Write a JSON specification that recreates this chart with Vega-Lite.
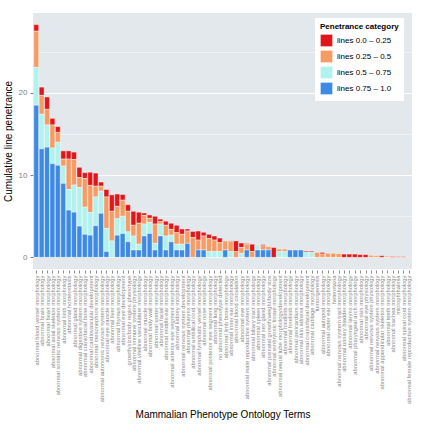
{
  "$schema": "https://vega.github.io/schema/vega-lite/v6.json",
  "width": 379,
  "height": 256,
  "autosize": "none",
  "padding": {"left": 33, "top": 13, "right": 14, "bottom": 157},
  "background": "white",
  "config": {
    "font": "Liberation Sans",
    "view": {"fill": "#E2E8EB", "stroke": null}
  },
  "data": {"values": [
    {"t":"abnormal blood vessel morphology","b":18.5,"c":4.6,"o":4.4,"r":0.8},
    {"t":"abnormal brain morphology","b":13.2,"c":4.2,"o":2.3,"r":1.0},
    {"t":"abnormal heart morphology","b":13.4,"c":2.7,"o":1.9,"r":1.5},
    {"t":"abnormal axial skeleton morphology","b":11.4,"c":1.9,"o":2.8,"r":0.8},
    {"t":"abnormal somatic nervous system morphology","b":11.2,"c":2.8,"o":1.2,"r":0.7},
    {"t":"abnormal limb morphology","b":9.0,"c":2.1,"o":0.85,"r":1.0},
    {"t":"abnormal homeostasis","b":5.75,"c":2.5,"o":3.7,"r":1.0},
    {"t":"abnormal gland morphology","b":5.5,"c":3.3,"o":3.1,"r":0.9},
    {"t":"abnormal digestive system morphology","b":3.8,"c":4.7,"o":1.2,"r":1.25},
    {"t":"abnormal craniofacial bone morphology","b":2.8,"c":3.3,"o":3.5,"r":0.7},
    {"t":"abnormal cardiovascular development","b":2.7,"c":2.75,"o":3.3,"r":1.6},
    {"t":"abnormal mesonephros morphology","b":3.85,"c":3.5,"o":1.3,"r":1.6},
    {"t":"abnormal autonomic nervous system morphology","b":5.35,"c":2.7,"o":0.6,"r":0.5},
    {"t":"abnormal eye muscle morphology","b":0.7,"c":2.8,"o":3.85,"r":0.9},
    {"t":"abnormal liver morphology","b":0,"c":2.0,"o":3.6,"r":2.0},
    {"t":"abnormal thymus morphology","b":2.7,"c":2.0,"o":1.5,"r":1.5},
    {"t":"abnormal eye development","b":2.9,"c":2.1,"o":1.95,"r":0.7},
    {"t":"growth/size/body region phenotype","b":1.9,"c":1.2,"o":2.5,"r":0.8},
    {"t":"abnormal immune system physiology","b":0.9,"c":1.7,"o":1.3,"r":1.7},
    {"t":"abnormal vitelline vasculature morphology","b":0.9,"c":0.7,"o":2.55,"r":1.35},
    {"t":"abnormal muscle morphology","b":2.6,"c":1.45,"o":1.05,"r":0.3},
    {"t":"abnormal body wall morphology","b":2.9,"c":1.35,"o":0.5,"r":0.4},
    {"t":"abnormal ureter morphology","b":0.9,"c":0.8,"o":2.35,"r":0.95},
    {"t":"abnormal facial morphology","b":2.6,"c":1.45,"o":0.3,"r":0.3},
    {"t":"abnormal middle ear morphology","b":0.9,"c":1.7,"o":1.3,"r":0.5},
    {"t":"abnormal anterior eye segment morphology","b":1.9,"c":0.8,"o":0.7,"r":0.75},
    {"t":"abnormal kidney morphology","b":0.9,"c":0.7,"o":1.4,"r":0.9},
    {"t":"abnormal nervous system development","b":0.9,"c":0.7,"o":1.2,"r":0.65},
    {"t":"abnormal pharynx morphology","b":1.7,"c":0,"o":1.5,"r":0.25},
    {"t":"abnormal umbilical cord morphology","b":0,"c":0,"o":2.4,"r":0.75},
    {"t":"abnormal lymphatic vessel morphology","b":0.9,"c":0,"o":1.2,"r":1.1},
    {"t":"abnormal nose morphology","b":0.9,"c":0,"o":1.7,"r":0.45},
    {"t":"abnormal posterior eye segment morphology","b":0,"c":0.7,"o":1.6,"r":0.5},
    {"t":"abnormal lung morphology","b":0,"c":0.7,"o":1.4,"r":0.5},
    {"t":"no abnormal phenotype detected","b":0,"c":0.7,"o":1.1,"r":0.55},
    {"t":"abnormal limb bone morphology","b":0.9,"c":0,"o":1.1,"r":0},
    {"t":"abnormal inner ear morphology","b":0,"c":0.7,"o":1.2,"r":0.1},
    {"t":"abnormal blood circulation","b":0,"c":0,"o":0.7,"r":1.3},
    {"t":"abnormal eye morphology","b":0,"c":0.5,"o":0.7,"r":0.55},
    {"t":"abnormal male reproductive system morphology","b":0.9,"c":0,"o":0.7,"r":0.1},
    {"t":"abnormal biliary tract morphology","b":0,"c":0,"o":0.7,"r":0.9},
    {"t":"abnormal spleen morphology","b":0.9,"c":0.6,"o":0,"r":0},
    {"t":"abnormal sex gland morphology","b":0.9,"c":0,"o":0.5,"r":0.15},
    {"t":"abnormal prenatal growth/weight/body size","b":0.9,"c":0,"o":0.4,"r":0},
    {"t":"abnormal embryonic tissue morphology","b":0,"c":0,"o":0,"r":1.2},
    {"t":"abnormal neural tube morphology/development","b":0,"c":0.7,"o":0.3,"r":0},
    {"t":"abnormal hindlimb morphology","b":0,"c":0.7,"o":0.3,"r":0},
    {"t":"abnormal forelimb morphology","b":0.9,"c":0,"o":0,"r":0},
    {"t":"abnormal pericardium morphology","b":0.9,"c":0,"o":0,"r":0},
    {"t":"abnormal skin adnexa morphology","b":0.9,"c":0,"o":0,"r":0},
    {"t":"abnormal craniofacial development","b":0,"c":0.6,"o":0,"r":0.15},
    {"t":"abnormal cartilage morphology","b":0,"c":0.6,"o":0,"r":0.15},
    {"t":"tumorigenesis","b":0,"c":0,"o":0.6,"r":0},
    {"t":"abnormal autopod morphology","b":0,"c":0,"o":0.4,"r":0.2},
    {"t":"abnormal outer ear morphology","b":0,"c":0,"o":0.5,"r":0},
    {"t":"heterotaxia","b":0,"c":0,"o":0.5,"r":0},
    {"t":"abnormal nervous system tract morphology","b":0,"c":0,"o":0.45,"r":0},
    {"t":"abnormal urinary bladder morphology","b":0,"c":0,"o":0,"r":0.4},
    {"t":"abnormal larynx morphology","b":0,"c":0,"o":0,"r":0.4},
    {"t":"abnormal pharyngeal arch morphology","b":0,"c":0,"o":0,"r":0.4},
    {"t":"abnormal skin morphology","b":0,"c":0,"o":0,"r":0.33},
    {"t":"abnormal eye physiology","b":0,"c":0,"o":0,"r":0.33},
    {"t":"abnormal nervous system physiology","b":0,"c":0,"o":0.25,"r":0},
    {"t":"abnormal nervous system morphology","b":0,"c":0,"o":0.2,"r":0},
    {"t":"abnormal appendicular skeleton morphology","b":0,"c":0,"o":0,"r":0.2},
    {"t":"abnormal teeth morphology","b":0,"c":0,"o":0.15,"r":0},
    {"t":"abnormal trachea morphology","b":0,"c":0,"o":0,"r":0.1},
    {"t":"microphthalmia","b":0,"c":0,"o":0,"r":0.08},
    {"t":"abnormal spinal cord morphology","b":0,"c":0,"o":0,"r":0.08},
    {"t":"abnormal female reproductive system morphology","b":0,"c":0,"o":0,"r":0.04}
  ]},
  "transform": [
    {"fold": ["r", "o", "c", "b"], "as": ["k", "v"]},
    {"filter": "datum.v > 0"}
  ],
  "mark": {"type": "bar", "stroke": "white", "strokeWidth": 0.4},
  "encoding": {
    "x": {
      "field": "t", "type": "nominal", "sort": null,
      "scale": {"paddingInner": 0.1, "paddingOuter": 0.15},
      "axis": {
        "title": "Mammalian Phenotype Ontology Terms",
        "titleFontSize": 10, "titleFontWeight": "normal", "titleColor": "black",
        "titleY": 147, "titleBaseline": "alphabetic",
        "labelAngle": 270, "labelAlign": "right", "labelBaseline": "middle",
        "labelFontSize": 5.8, "labelColor": "#8A8A8A", "labelPadding": 2, "labelLimit": 300,
        "labelOverlap": false,
        "tickColor": "#8A8A8A", "tickSize": 3, "tickOffset": 0,
        "domain": false, "grid": false, "offset": 1
      }
    },
    "y": {
      "field": "v", "type": "quantitative", "aggregate": "sum", "stack": "zero",
      "scale": {"domain": [-1.415, 29.715], "nice": false, "zero": false},
      "axis": {
        "title": "Cumulative line penetrance",
        "titleFontSize": 10, "titleFontWeight": "normal", "titleColor": "black", "titlePadding": 5,
        "values": [0, 5, 10, 15, 20, 25],
        "labelExpr": "datum.value % 10 === 0 ? datum.label : ''",
        "labelFontSize": 8, "labelColor": "#7F7F7F", "labelPadding": 3,
        "tickColor": "#7F7F7F", "tickSize": 3,
        "tickOpacity": {"expr": "datum.value % 10 === 0 ? 1 : 0"},
        "grid": true, "gridColor": "white",
        "gridWidth": {"expr": "datum.value % 10 === 0 ? 1.1 : 0.5"},
        "domain": false
      }
    },
    "color": {
      "field": "k", "type": "nominal",
      "scale": {"domain": ["r", "o", "c", "b"], "range": ["#E0161B", "#F79B64", "#B0F2EE", "#3D8AE5"]},
      "legend": {
        "title": "Penetrance category",
        "labelExpr": "{'r':'lines 0.0 – 0.25','o':'lines 0.25 – 0.5','c':'lines 0.5 – 0.75','b':'lines 0.75 – 1.0'}[datum.value]",
        "orient": "none", "legendX": 282, "legendY": 5,
        "fillColor": "white", "padding": 5,
        "titleFontSize": 8, "titleFontWeight": "bold", "titleColor": "black", "titlePadding": 3,
        "labelFontSize": 8, "labelColor": "black",
        "symbolType": "square", "symbolSize": 150, "symbolStrokeColor": "white", "symbolStrokeWidth": 0.5,
        "symbolOpacity": 1, "rowPadding": 1
      }
    },
    "order": {"field": "k", "sort": "ascending"}
  }
}
